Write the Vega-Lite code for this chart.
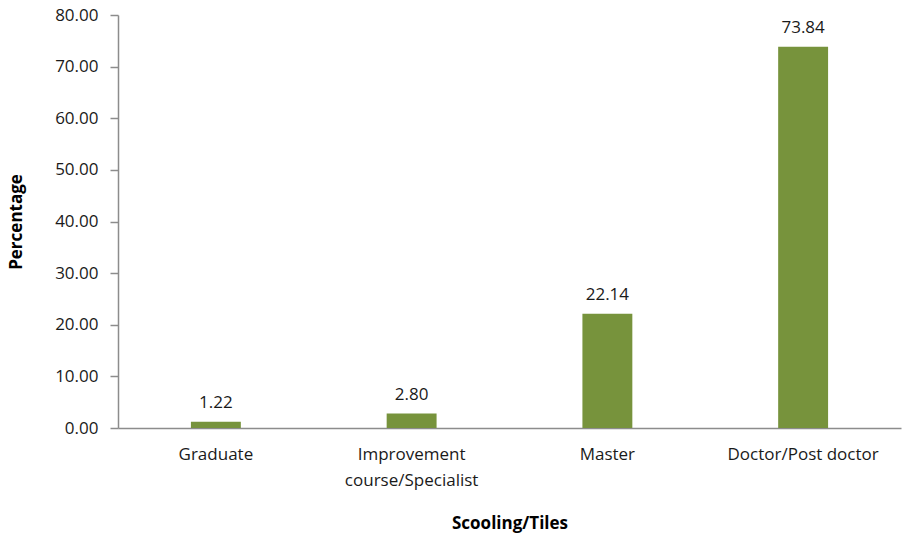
{
  "$schema": "https://vega.github.io/schema/vega-lite/v6.json",
  "width": 783,
  "height": 413,
  "autosize": "none",
  "padding": {"left": 118, "top": 15, "right": 5, "bottom": 108},
  "background": "white",
  "config": {"view": {"stroke": null}, "font": "Open Sans"},
  "data": {"values": [
    {"category": "Graduate", "value": 1.22},
    {"category": "Improvement course/Specialist", "value": 2.80},
    {"category": "Master", "value": 22.14},
    {"category": "Doctor/Post doctor", "value": 73.84}
  ]},
  "encoding": {
    "x": {
      "field": "category", "type": "nominal", "sort": null,
      "scale": {"paddingInner": 0.745, "paddingOuter": 0.3725},
      "axis": {
        "title": "Scooling/Tiles", "titleFont": "Open Sans", "titleFontSize": 17, "titleFontWeight": "bold", "titleColor": "#000000", "titlePadding": 27,
        "labelAngle": 0, "labelFontSize": 17, "labelColor": "#1a1a1a", "labelPadding": 18, "labelFont": "Open Sans",
        "labelExpr": "datum.value == 'Improvement course/Specialist' ? ['Improvement', 'course/Specialist'] : datum.value",
        "ticks": false, "domainColor": "#8c8c8c", "domainWidth": 1.5, "labelLineHeight": 26
      }
    },
    "y": {
      "field": "value", "type": "quantitative",
      "scale": {"domain": [0, 80]},
      "axis": {
        "title": "Percentage", "titleFont": "Open Sans", "titleFontSize": 17, "titleFontWeight": "bold", "titleColor": "#000000", "titlePadding": 29,
        "values": [0, 10, 20, 30, 40, 50, 60, 70, 80], "format": ".2f", "grid": false,
        "labelFontSize": 17, "labelColor": "#1a1a1a", "labelPadding": 12, "labelFont": "Open Sans",
        "tickSize": 8, "tickColor": "#8c8c8c", "tickWidth": 1.5, "domainColor": "#8c8c8c", "domainWidth": 1.5
      }
    }
  },
  "layer": [
    {"mark": {"type": "bar", "color": "#77933C"}},
    {"mark": {"type": "text", "baseline": "bottom", "dy": -10, "fontSize": 17, "color": "#1a1a1a", "font": "Open Sans"},
     "encoding": {"text": {"field": "value", "type": "quantitative", "format": ".2f"}}}
  ]
}
